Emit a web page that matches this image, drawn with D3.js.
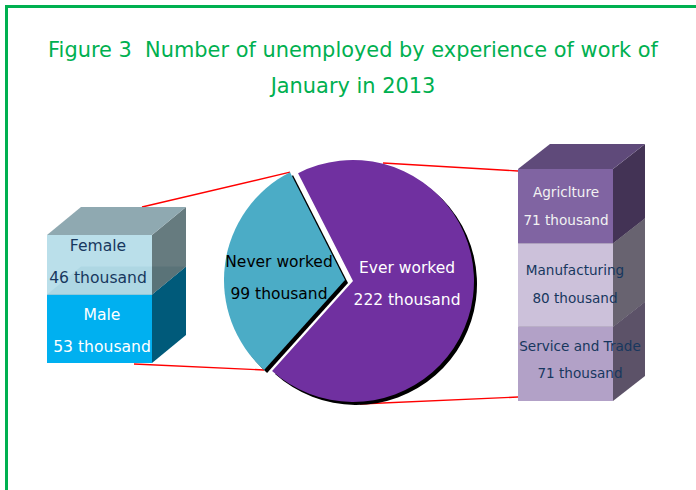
<!DOCTYPE html>
<html>
<head>
<meta charset="utf-8">
<script src="https://cdn.jsdelivr.net/npm/d3@7"></script>
<style>
  html, body { margin: 0; background: #fff; }
  svg { display: block; }
  text { font-family: "DejaVu Sans", sans-serif; text-anchor: middle; }
</style>
</head>
<body>
<svg id="chart" width="696" height="490"></svg>
<script>
const titleLines = ["Figure 3\u00a0\u00a0Number of unemployed by experience of work of", "January in 2013"];

const pieNames = ["Ever worked", "Never worked"];
const pieValues = [222, 99];

const neverNames = ["Male", "Female"];
const neverValues = [53, 46];

const everNames = ["Service and Trade", "Manufacturing", "Agriclture"];
const everValues = [71, 80, 71];

const unit = "thousand";

const svg = d3.select("#chart");
const green = "#00b050";

// page frame: top and left only, the rest runs off the picture
svg.append("path")
    .attr("d", "M6.5,490V6.5H696")
    .attr("fill", "none")
    .attr("stroke", green)
    .attr("stroke-width", 3);

svg.selectAll(".title")
    .data(titleLines)
  .enter().append("text")
    .attr("class", "title")
    .attr("x", 353)
    .attr("y", (d, i) => 57 + i * 36)
    .attr("font-size", 20.9)
    .attr("fill", green)
    .text(d => d);

// one stacked block, bottom segment first so upper faces sit on top of it
function block(opt) {
  const y = d3.scaleLinear()
      .domain([0, d3.sum(opt.values)])
      .range([opt.bottom, opt.top]);
  const x0 = opt.left;
  const x1 = opt.left + opt.width;
  const segs = d3.stack().keys(opt.values.map((d, i) => i))([opt.values])
      .map((s, i) => ({ y0: y(s[0][0]), y1: y(s[0][1]), i }));

  const g = svg.append("g");
  const poly = pts => `M${pts.join("L")}Z`;

  segs.forEach(s => {
    const c = opt.colors[s.i];
    const seg = g.append("g").attr("opacity", c.opacity || 1);
    seg.append("path")
        .attr("d", poly([[x0, s.y0], [x1, s.y0], [x1, s.y1], [x0, s.y1]]))
        .attr("fill", c.front);
    seg.append("path")
        .attr("d", poly([[x1, s.y0], [x1 + opt.dx, s.y0 - opt.dy], [x1 + opt.dx, s.y1 - opt.dy], [x1, s.y1]]))
        .attr("fill", c.side);
    seg.append("path")
        .attr("d", poly([[x0, s.y1], [x1, s.y1], [x1 + opt.dx, s.y1 - opt.dy], [x0 + opt.dx, s.y1 - opt.dy]]))
        .attr("fill", c.top);
  });

  segs.forEach(s => {
    const c = opt.colors[s.i];
    const mid = (s.y0 + s.y1) / 2 + opt.textShift[s.i];
    const cx = x0 + opt.textX[s.i];
    const label = g.append("g")
        .attr("fill", c.text)
        .attr("font-size", opt.fontSize);
    label.append("text")
        .attr("x", cx)
        .attr("y", mid - opt.lineGap / 2 + opt.fontSize * 0.35)
        .text(opt.names[s.i]);
    label.append("text")
        .attr("x", cx)
        .attr("y", mid + opt.lineGap / 2 + opt.fontSize * 0.35)
        .text(`${opt.values[s.i]} ${unit}`);
  });
}

const leftBlock = { left: 47, width: 105, top: 235, bottom: 363, dx: 34, dy: 28 };
const rightBlock = { left: 518, width: 95, top: 169, bottom: 401, dx: 32, dy: 25 };

// pie: each slice is pulled apart a little and carries a hard black shadow
const cx = 354;
const cy = 281;
const radius = 121;
const rad = Math.PI / 180;
const pie = d3.pie().sort(null).startAngle(-27 * rad).endAngle(333 * rad)(pieValues);
const arc = d3.arc().innerRadius(0).outerRadius(radius);
const pieFill = ["#7030a0", "#4bacc6"];
const pieText = ["#fff", "#000"];
const shift = [[-1, 0], [-9, -1]];
const rim = (a, s) => [cx + s[0] + radius * Math.sin(a), cy + s[1] - radius * Math.cos(a)];

const blue = pie[1];

// connectors
const connectors = [
  [[leftBlock.left + 95, leftBlock.top - leftBlock.dy], rim(blue.endAngle, shift[1])],
  [[leftBlock.left + 87, leftBlock.bottom + 1], rim(blue.startAngle, shift[1])],
  [[rightBlock.left, rightBlock.top + 2], [cx + 29, cy - 118]],
  [[rightBlock.left, rightBlock.bottom - 4], [cx + 6, cy + 123]]
];
svg.selectAll(".link")
    .data(connectors)
  .enter().append("line")
    .attr("class", "link")
    .attr("x1", d => d[0][0])
    .attr("y1", d => d[0][1])
    .attr("x2", d => d[1][0])
    .attr("y2", d => d[1][1])
    .attr("stroke", "#f00")
    .attr("stroke-width", 1.4);

block(Object.assign({}, leftBlock, {
  values: neverValues,
  names: neverNames,
  fontSize: 15.6,
  lineGap: 32,
  textX: [55, 51],
  textShift: [2, -3],
  colors: [
    { front: "#00b0f0", side: "#005a7a", top: "#5f97a6", text: "#fff" },
    { front: "#b5dde9", side: "#5a7075", top: "#86a2ab", text: "#17375e", opacity: 0.92 }
  ]
}));

block(Object.assign({}, rightBlock, {
  values: everValues,
  names: everNames,
  fontSize: 13.6,
  lineGap: 27.5,
  textX: [62, 57, 48],
  textShift: [-4, -1, 0],
  colors: [
    { front: "#b2a1c7", side: "#5c5268", top: "#5c5268", text: "#17375e" },
    { front: "#ccc1da", side: "#686370", top: "#686370", text: "#17375e" },
    { front: "#8064a2", side: "#433355", top: "#5f4a7a", text: "#f2f2f2" }
  ]
}));

const slices = svg.append("g").attr("transform", `translate(${cx},${cy})`);
slices.selectAll(".shadow")
    .data(pie)
  .enter().append("path")
    .attr("class", "shadow")
    .attr("d", arc)
    .attr("transform", (d, i) => `translate(${shift[i][0] + 3},${shift[i][1] + 3})`)
    .attr("fill", "#000");
slices.selectAll(".slice")
    .data(pie)
  .enter().append("path")
    .attr("class", "slice")
    .attr("d", arc)
    .attr("transform", (d, i) => `translate(${shift[i][0]},${shift[i][1]})`)
    .attr("fill", (d, i) => pieFill[i]);

const pieLabelX = [407, 279];
const pieLabelY = [267, 261];
pieNames.forEach((name, i) => {
  const label = svg.append("g").attr("font-size", 15.5).attr("fill", pieText[i]);
  label.append("text").attr("x", pieLabelX[i]).attr("y", pieLabelY[i] + 6).text(name);
  label.append("text").attr("x", pieLabelX[i]).attr("y", pieLabelY[i] + 38).text(`${pieValues[i]} ${unit}`);
});
</script>
</body>
</html>
